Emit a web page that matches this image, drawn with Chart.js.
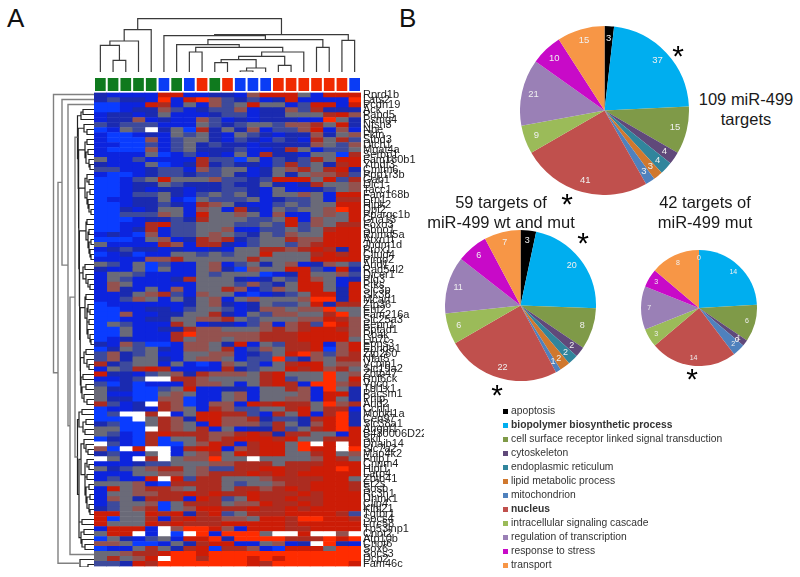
<!DOCTYPE html>
<html>
<head>
<meta charset="utf-8">
<script src="https://cdn.jsdelivr.net/npm/chart.js@4/dist/chart.umd.min.js"></script>
<style>
  html, body { margin: 0; padding: 0; background: #fff; }
  #page { position: relative; width: 800px; height: 577px; overflow: hidden; font-family: "Liberation Sans", Arial, sans-serif; color: #1a1a1a; }
  #page canvas { position: absolute; }
  #page canvas.soft { filter: blur(0.45px); }
  .txt { position: absolute; white-space: nowrap; transform: translate(-50%, -50%); font-size: 16.5px; line-height: 20px; }
  .star { position: absolute; transform: translate(-50%, -50%); font-size: 30px; line-height: 30px; color: #000; }
  .letter { position: absolute; font-size: 26px; line-height: 26px; color: #111; }
  .legend-row { position: absolute; left: 503px; font-size: 10.3px; line-height: 14px; height: 14px; color: #333; white-space: nowrap; }
  .legend-row i { position: absolute; left: 0; top: 4px; width: 5px; height: 5px; }
  .legend-row span { position: absolute; left: 8px; top: -1px; }
</style>
</head>
<body>
<div id="page"></div>
<script>
const geneLabels = [
  "Rprd1b", "Lats2", "Pcdh19", "Ack", "Papd5", "Psmg4", "Nfsh3", "Nbe", "Fktn", "Stbd3", "Dtch1", "Mgat4a", "Serbp1",
  "Fam160b1", "Ythdf3", "Cmtm6", "Ppp1r3b", "Gab1", "Dlc1", "Tacc1", "Fam168b", "Ern1", "Hipk2", "Dpf2", "Ppargc1b",
  "Gna13", "Foxo3", "Sbno1", "Rnmd5a", "Atxn1l", "Jhdm1d", "Prox1", "Cltud4", "Pimp2", "Arid1", "Rad54l2", "Dicer1",
  "Plg3", "Ptks", "Slc3p", "Slk38", "Mcart1", "Zfp36", "Ehf2", "Fam216a", "Slc25a3", "Eepn1", "Ppfad1", "Rbak", "Lin7c",
  "Epns3", "Epnde1", "Zfp260", "Nfat5", "Vcpip1", "Slc19a2", "Zbtb47", "Rnf6ck", "Vgcg", "Tbl1x1", "Pacsm1", "Pnip",
  "Arid2", "Ccnl1", "Mobkl1a", "Cep97", "Slc38a1", "Angpt1", "B430006D22l", "Skil", "Dnajb14", "Slc7a2", "Map4k2",
  "Fnip1", "Cnnm4", "Hipt1", "Larp4", "Zbtb41", "Er2s", "Sosb", "Rc3h1", "Uhmk1", "Clip4", "Klhl21", "Tgfbr1", "Socs4",
  "Lrrc58", "Tp53inp1", "Cnot2", "Atp10b", "Cnot6", "Sox6", "Socs3", "Dcp2", "Fam46c"
];

const sampleGroups = ["g", "g", "g", "g", "g", "b", "g", "b", "r", "g", "r", "b", "b", "b", "r", "r", "r", "r", "r", "r", "b"];

// one string per gene, 21 samples, 0 = bright blue ... 4 = grey ... 8 = bright red, x = missing
const heatRows = [
  "21111 77112 21577 741777", "23221 81785 32312 711118", "00117 61415 34744 137717", "00122 53123 35122 536222",
  "12212 41112 33122 444675", "12251 21153 12122 211842", "32333 11143 23443 556472", "0143x 24062 42513 357151",
  "10012 14342 14321 225245", "10005 13442 13213 216463", "11003 13423 22122 225435", "10005 13422 23112 641334",
  "11114 01312 14162 214406", "41131 11163 30413 236477", "21114 01262 32213 634267", "33112 33153 44124 564672",
  "10012 33233 42124 245563", "00134 74445 33237 774736", "00122 43222 32242 126445", "00121 22122 33214 112345",
  "00133 42134 34214 454177", "01122 41043 33412 334166", "00122 32165 42113 434477", "00212 44154 16214 344587",
  "00333 54174 45415 114547", "00012 23264 44334 715447", "00116 73344 43343 735466", "00126 13344 51133 434677",
  "12105 13345 43243 544777", "00014 51265 62344 655777", "41111 65166 21344 356777", "12322 12112 14466 567627",
  "01201 14434 34474 446767", "11115 56444 44644 447777", "43140 31145 13424 512543", "21140 41145 20544 773172",
  "14431 11143 44401 274453", "14311 12644 42124 375412", "15411 11144 43532 477417", "15214 15144 65135 477427",
  "11245 63154 41012 347727", "11354 14245 14544 458827", "01111 11245 21243 347266", "00112 21344 31255 455844",
  "00511 22446 21435 544684", "00112 24455 64344 455765", "04311 16412 21351 563875", "00411 22655 44456 567765",
  "00411 16855 55566 677775", "01211 16455 45566 677774", "21530 01554 27143 667157", "02434 21554 61354 667057",
  "35234 11445 51234 785356", "35244 21455 41338 325466", "62344 14101 54314 677455", "14367 61111 62344 767564",
  "72213 45265 55467 444845", "1123x x6654 44467 344847", "30201 11655 41467 618856", "42200 34711 22144 651842",
  "41100 45411 45144 451772", "42200 55011 45144 551742", "6312x 65015 51767 664856", "01121 65416 53344 674661",
  "03xx6 x1477 66316 471682", "000x4 65277 55623 326782", "23004 65417 55536 425782", "4400x 65461 41226 346787",
  "43106 76665 56762 664417", "02106 04465 67776 744667", "x3106 00457 61677 48x7x7", "50x7x x1677 15677 4877x8",
  "23114 x1456 47677 446745", "x41x6 x4558 44x44 445764", "11123 34445 56664 666777", "42345 66453 36677 667787",
  "11144 55456 66767 677777", "13117 x7366 44456 666774", "44451 06666 43445 667776", "17456 65466 46656 767776",
  "14455 66767 66766 676777", "15426 66176 34766 766777", "13445 04666 45576 676777", "23456 04577 66766 767777",
  "77447 67267 34666 777763", "70446 16766 55477 688776", "74447 67666 77777 677777", "17771 x5887 51777 667777",
  "477x1 x0x81 8884x x7xx5x", "04213 41778 28888 666878", "55400 14267 71145 12x821", "01146 42670 66510 777488",
  "44566 78878 88888 888888", "46457 x8868 88787 888888", "33276 88888 88768 888887"
];

// [height, left, right], 0 is a leaf
const topTree = [53.3,
  [42.3, [31, [26.7, 0, [11.7, 0, 0]], 0], 0],
  [37.3,
    [36.3, 0, [32.3,
      [27.3, 0, [24.7, [20, 0, 0], [20, [15.7, [12.3, [9.3, 0, 0], [4, [1, 0, 0], 0]], [6.7, 0, 0]], 0]]],
      [24.7, 0, 0]]],
    [31.7, 0, 0]]];

const c1 = [13, [11, 0, 0], 0];
const c2 = [10, 0, [7, 0, 0]];
const c3 = [9, [7, 0, 0], [8, [6, 0, 0], [5, 0, [4, 0, 0]]]];
const c4 = [9, [7, 0, [5, 0, 0]], [7, [4, 0, 0], [6, 0, [5, 0, [3, 0, 0]]]]];
const c5 = [8, [7, 0, 0], [6, [5, 0, 0], [5, [3, 0, 0], [4, 0, [3, 0, 0]]]]];
const c6 = [11, [9, 0, 0], [8, 0, [6, 0, [4, 0, 0]]]];
const c7 = [9, [8, 0, 0], [7, [6, 0, [4, 0, 0]], [7, [5, 0, 0], [6, 0, [4, 0, [3, 0, 0]]]]]];
const c8 = [10, [8, 0, 0], [7, 0, [5, 0, 0]]];
const c9 = [13, [11, 0, 0], [12, [8, 0, 0], [10, 0, [7, 0, 0]]]];
const q1 = [15, [12, 0, 0], [11, [8, 0, 0], [9, 0, 0]]];
const q2 = [13, [10, 0, [8, 0, [6, 0, 0]]], [9, [7, 0, [5, 0, 0]], [9, [7, 0, 0], [8, [5, 0, 0], [7, [4, 0, 0], [5, 0, [4, 0, 0]]]]]]];
const q3 = [15, [12, 0, 0], [13, [10, 0, 0], [12, 0, [9, 0, 0]]]];
const upperGenes = [16.5, c1, [16, c2, [15.6, c3, [15.2, c4, [14.8, c5, [14.4, c6, [14, c7, [13.6, c8, c9]]]]]]]];
const lowerGenes = [16.5, q1, [15, q2, q3]];
const leftTree = [40.5, 0, [36, [32, 0, [26, 0, [24, [19, upperGenes, lowerGenes], 0]]], [14, 0, [6, 0, 0]]]];

const goTerms = [
  "apoptosis", "biopolymer biosynthetic process", "cell surface receptor linked signal transduction", "cytoskeleton",
  "endoplasmic reticulum", "lipid metabolic process", "mitochondrion", "nucleus", "intracellular signaling cascade",
  "regulation of transcription", "response to stress", "transport"
];
const boldTerms = ["biopolymer biosynthetic process", "nucleus"];
const goColors = ["#000000", "#00aeef", "#7f9a48", "#60497a", "#31859c", "#d0782e", "#4f81bd", "#c0504d", "#9bbb59", "#9a80b6", "#c80ac8", "#f79646"];
const targets109 = [3, 37, 15, 4, 4, 3, 3, 41, 9, 21, 10, 15];
const targets59 = [3, 20, 8, 2, 2, 2, 1, 22, 6, 11, 6, 7];
const targets42 = [0, 14, 6, 1, 0, 0, 2, 14, 3, 7, 3, 8];

const heatColors = { 0: "#0a3cff", 1: "#0c24de", 2: "#1a2ab0", 3: "#3d4a9c", 4: "#6a6a78", 5: "#93524f", 6: "#ac2c20", 7: "#cc1c06", 8: "#ff2c00", x: "#ffffff" };
const groupColors = { g: "#0f7a1e", b: "#0a3cf5", r: "#f02a00" };

Chart.defaults.animation = false;
Chart.defaults.font.family = '"Liberation Sans", Arial, sans-serif';
Chart.defaults.plugins.legend.display = false;
Chart.defaults.plugins.tooltip.enabled = false;

const page = document.getElementById("page");

function addCanvas(left, top, width, height, soft) {
  const c = document.createElement("canvas");
  c.width = width;
  c.height = height;
  c.style.left = left + "px";
  c.style.top = top + "px";
  c.style.width = width + "px";
  c.style.height = height + "px";
  if (soft) c.className = "soft";
  page.appendChild(c);
  return c;
}

function addText(cls, text, x, y) {
  const d = document.createElement("div");
  d.className = cls;
  d.textContent = text;
  d.style.left = x + "px";
  d.style.top = y + "px";
  page.appendChild(d);
}

// walks the tree, returns line pieces as [leaf position, height] with a gap after each merge
function treePieces(tree, useNode) {
  let leaf = 0;
  const pts = [];
  function walk(n) {
    if (n === 0) return { pos: 0.5 + leaf++, h: 0 };
    const a = walk(n[1]);
    const b = walk(n[2]);
    if (useNode(n[0])) {
      pts.push([a.pos, a.h], [a.pos, n[0]], [b.pos, n[0]], [b.pos, b.h], [null, null]);
    }
    return { pos: (a.pos + b.pos) / 2, h: n[0] };
  }
  walk(tree);
  return pts;
}

// heatmap: one dataset per sample, floating horizontal bars
const heatCells = heatRows.map(r => r.replace(/ /g, "").split(""));
new Chart(addCanvas(94, 84, 330, 491, true), {
  type: "bar",
  data: {
    labels: geneLabels,
    datasets: sampleGroups.map((g, col) => ({
      data: geneLabels.map(() => [col, col + 1]),
      backgroundColor: heatCells.map(cells => heatColors[cells[col]]),
      grouped: false,
      barPercentage: 1,
      categoryPercentage: 1,
      borderWidth: 0
    }))
  },
  options: {
    indexAxis: "y",
    responsive: false,
    layout: { padding: { top: 8, bottom: 8, left: 0, right: 0 } },
    scales: {
      x: { type: "linear", min: 0, max: 21, display: false },
      y: {
        position: "right",
        grid: { display: false, drawTicks: false },
        border: { display: false },
        ticks: { autoSkip: false, maxRotation: 0, padding: 2, color: "#222", font: { size: 11 } },
        afterFit: s => { s.width = 63; }
      }
    }
  }
});

// sample group strip above the heatmap
new Chart(addCanvas(94, 78, 267, 13), {
  type: "bar",
  data: {
    labels: sampleGroups,
    datasets: [{
      data: sampleGroups.map(() => 1),
      backgroundColor: sampleGroups.map(g => groupColors[g]),
      barPercentage: 0.84,
      categoryPercentage: 1
    }]
  },
  options: {
    responsive: false,
    scales: { x: { display: false }, y: { display: false, min: 0, max: 1 } }
  }
});

// column dendrogram
new Chart(addCanvas(94, 15, 267, 57, true), {
  type: "scatter",
  data: {
    datasets: [{
      data: treePieces(topTree, () => true).map(p => ({ x: p[0], y: p[1] })),
      showLine: true,
      pointRadius: 0,
      borderColor: "#3a3a3a",
      borderWidth: 1.2
    }]
  },
  options: {
    responsive: false,
    scales: { x: { type: "linear", min: 0, max: 21, display: false }, y: { min: 0, max: 57, display: false } }
  }
});

// row dendrogram, outer merges are drawn in grey
new Chart(addCanvas(50, 92, 44, 475, true), {
  type: "scatter",
  data: {
    datasets: [
      {
        data: treePieces(leftTree, h => h >= 17).map(p => ({ x: p[1], y: p[0] })),
        showLine: true, pointRadius: 0, borderColor: "#808080", borderWidth: 1.4
      },
      {
        data: treePieces(leftTree, h => h < 17).map(p => ({ x: p[1], y: p[0] })),
        showLine: true, pointRadius: 0, borderColor: "#222222", borderWidth: 1.2
      }
    ]
  },
  options: {
    responsive: false,
    scales: {
      x: { type: "linear", min: 0, max: 44, reverse: true, display: false },
      y: { min: 0, max: 95, reverse: true, display: false }
    }
  }
});

// white counts inside the pie slices
const sliceLabels = {
  id: "sliceLabels",
  afterDatasetsDraw(chart, args, opts) {
    const ctx = chart.ctx;
    const values = chart.data.datasets[0].data;
    ctx.save();
    ctx.fillStyle = "#f0f0f0";
    ctx.font = opts.size + 'px "Liberation Sans", Arial, sans-serif';
    ctx.textAlign = "center";
    ctx.textBaseline = "middle";
    chart.getDatasetMeta(0).data.forEach((arc, i) => {
      const mid = (arc.startAngle + arc.endAngle) / 2;
      const r = arc.outerRadius * opts.at;
      ctx.fillText(values[i], arc.x + Math.cos(mid) * r, arc.y + Math.sin(mid) * r);
    });
    ctx.restore();
  }
};

function drawPie(values, cx, cy, radius, labelSize) {
  const box = Math.round(radius * 2);
  new Chart(addCanvas(Math.round(cx - radius), Math.round(cy - radius), box, box), {
    type: "pie",
    data: {
      labels: goTerms,
      datasets: [{ data: values, backgroundColor: goColors, borderWidth: 0 }]
    },
    options: {
      responsive: false,
      plugins: { sliceLabels: { size: labelSize, at: 0.86 } }
    },
    plugins: [sliceLabels]
  });
}

drawPie(targets109, 604, 110.5, 84.5, 9.5);
drawPie(targets59, 520, 305, 75.5, 9);
drawPie(targets42, 699, 307.5, 58, 7);

addText("letter", "A", 7, 5);
addText("letter", "B", 399, 5);
addText("txt", "109 miR-499", 746, 99);
addText("txt", "targets", 746, 119);
addText("txt", "59 targets of", 501, 202);
addText("txt", "miR-499 wt and mut", 501, 222);
addText("txt", "42 targets of", 705, 202);
addText("txt", "miR-499 mut", 705, 222);
addText("star", "*", 678, 56);
addText("star", "*", 567, 204);
addText("star", "*", 583, 243);
addText("star", "*", 497, 395);
addText("star", "*", 692, 379);

// GO term legend
goTerms.forEach((term, i) => {
  const row = document.createElement("div");
  row.className = "legend-row";
  row.style.top = (405 + i * 14) + "px";
  const swatch = document.createElement("i");
  swatch.style.background = goColors[i];
  const label = document.createElement("span");
  label.textContent = term;
  if (boldTerms.includes(term)) label.style.fontWeight = "bold";
  row.appendChild(swatch);
  row.appendChild(label);
  page.appendChild(row);
});
</script>
</body>
</html>
